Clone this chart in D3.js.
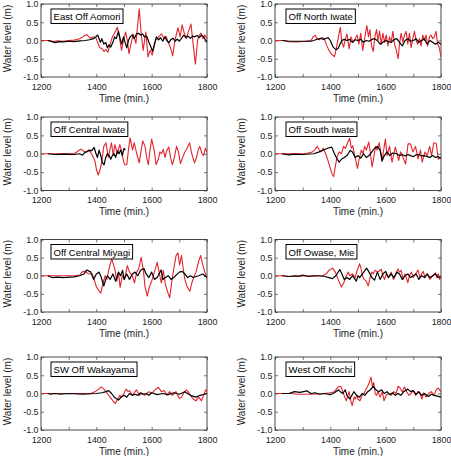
<!DOCTYPE html>
<html><head><meta charset="utf-8">
<script src="https://cdn.jsdelivr.net/npm/d3@7"></script>
<style>body{margin:0;background:#fff}svg{display:block}</style>
</head><body><svg id="c" width="451" height="456"></svg>
<script>
// ---- data (minutes, water level m) ----
const panelTitles = ["East Off Aomori","Off North Iwate","Off Central Iwate","Off South Iwate",
  "Off Central Miyagi","Off Owase, Mie","SW Off Wakayama","West Off Kochi"];
const xTicks = [1200,1400,1600,1800];
const xMinorTicks = [1200,1300,1400,1500,1600,1700,1800];
const yTicks = [-1,-0.5,0,0.5,1];

const aomoriRed = [[1200,0],[1230,0],[1245,-0.03],[1260,-0.01],[1280,-0.02],[1300,0],[1320,0.01],[1340,0.05],[1355,0.12],[1366,0.16],[1378,0.06],[1390,0.1],[1398,0.08],[1405,-0.05],[1412,-0.2],[1420,-0.22],[1428,-0.3],[1435,-0.25],[1442,-0.32],[1450,-0.1],[1458,0.1],[1466,0.2],[1476,0.36],[1483,0.1],[1491,-0.27],[1498,0],[1506,0.23],[1512,0],[1518,-0.36],[1525,-0.1],[1533,0.18],[1543,-0.08],[1555,0.87],[1562,0.2],[1569,-0.27],[1579,0.23],[1587,-0.45],[1594,-0.27],[1602,-0.4],[1614,0],[1625,0.1],[1636,0.18],[1645,0.05],[1652,0.12],[1660,-0.05],[1668,-0.2],[1676,-0.42],[1684,0],[1695,0.35],[1703,0.1],[1710,0.43],[1718,0.2],[1725,0.05],[1733,0.25],[1742,0.45],[1750,-0.1],[1758,-0.65],[1766,0],[1772,0.15],[1778,0.2],[1785,0.05],[1792,0.15],[1800,0.05]];
const aomoriBlack = [[1225,0],[1240,-0.03],[1252,-0.06],[1265,-0.03],[1280,-0.04],[1300,-0.02],[1320,-0.03],[1340,-0.01],[1360,0],[1375,0.02],[1390,0.05],[1398,0.1],[1405,0.15],[1410,0.05],[1415,-0.05],[1420,0.05],[1427,-0.1],[1434,-0.05],[1440,-0.2],[1446,-0.12],[1452,-0.18],[1460,-0.05],[1466,0.1],[1472,0.05],[1480,0.25],[1486,0.05],[1492,-0.1],[1498,0.1],[1504,-0.05],[1510,-0.2],[1516,0],[1522,0.1],[1530,0.15],[1537,0.05],[1545,0.18],[1552,0.2],[1560,0.15],[1567,0.18],[1574,0.1],[1582,0.12],[1590,-0.05],[1596,-0.15],[1603,-0.3],[1610,-0.1],[1617,0.1],[1625,0.02],[1632,0.08],[1640,-0.02],[1648,0.1],[1655,0],[1662,-0.06],[1670,0.03],[1678,0.06],[1685,-0.02],[1692,0.04],[1700,-0.02],[1708,0.06],[1716,0.15],[1724,0.08],[1732,0.12],[1740,0.06],[1748,0.12],[1756,0.1],[1764,0.14],[1772,0.08],[1780,0.15],[1788,0.1],[1794,0.02],[1800,-0.05]];

const nIwateRed = [[1200,0],[1230,0],[1250,-0.03],[1280,-0.04],[1310,-0.02],[1330,0],[1338,0.1],[1345,0.14],[1352,0.05],[1360,0.02],[1370,0.08],[1378,0.05],[1385,-0.1],[1395,-0.27],[1405,-0.38],[1415,-0.44],[1422,-0.2],[1428,0.05],[1436,0.36],[1442,-0.05],[1448,-0.18],[1455,0.05],[1460,0.18],[1468,-0.23],[1475,0.1],[1482,-0.05],[1490,0.05],[1497,0.15],[1503,-0.1],[1510,0.2],[1517,-0.27],[1524,0.05],[1532,0.41],[1538,0.1],[1543,0.3],[1549,-0.15],[1555,-0.3],[1561,0.1],[1567,0.3],[1572,0],[1578,0.25],[1584,-0.1],[1590,0.2],[1596,-0.05],[1602,0.15],[1608,-0.15],[1614,0.1],[1620,-0.05],[1626,0.25],[1632,-0.1],[1638,-0.25],[1645,-0.5],[1650,-0.1],[1656,0.2],[1662,-0.05],[1668,0.15],[1674,0.25],[1680,-0.1],[1686,0.2],[1692,-0.2],[1698,0.05],[1704,0.25],[1710,0],[1716,-0.1],[1722,0.05],[1728,-0.15],[1734,0.15],[1740,0],[1746,0.15],[1752,-0.15],[1758,0.1],[1764,0.15],[1770,0.05],[1776,0.1],[1782,0.25],[1788,-0.1],[1794,-0.2],[1800,-0.45]];
const nIwateBlack = [[1225,0],[1250,-0.02],[1290,-0.02],[1330,-0.02],[1340,0],[1355,0.04],[1365,0.06],[1375,0.03],[1385,0.06],[1392,0.08],[1400,0],[1410,-0.18],[1420,-0.25],[1428,-0.22],[1435,-0.1],[1442,0],[1450,0.03],[1460,0],[1470,0.03],[1480,-0.05],[1490,0.02],[1500,0],[1510,0.03],[1520,-0.05],[1530,0],[1540,-0.02],[1550,0.03],[1560,0.05],[1570,0],[1580,-0.1],[1590,-0.05],[1600,0],[1610,-0.03],[1620,-0.05],[1630,0.02],[1640,0.05],[1650,-0.05],[1660,-0.15],[1670,0],[1680,0.05],[1690,-0.02],[1700,0],[1710,0.05],[1720,-0.05],[1730,0],[1740,0.05],[1750,-0.1],[1760,0],[1770,-0.05],[1780,-0.1],[1790,-0.05],[1800,-0.1]];

const cIwateRed = [[1200,0],[1320,0],[1328,0.04],[1338,0.1],[1346,0.12],[1356,0.06],[1366,0.05],[1375,0.08],[1383,0],[1395,-0.2],[1401,-0.45],[1407,-0.58],[1413,-0.45],[1419,-0.25],[1427,0.2],[1435,0.3],[1443,-0.1],[1449,0.1],[1455,0.3],[1461,-0.05],[1467,0.25],[1476,0],[1485,0.25],[1492,0.05],[1498,-0.2],[1503,-0.3],[1510,-0.3],[1516,0.1],[1522,0.43],[1531,0.1],[1537,0.3],[1546,0],[1555,-0.25],[1562,0.1],[1568,0.35],[1576,0.2],[1582,-0.1],[1588,-0.3],[1594,0.1],[1600,0.4],[1609,0.1],[1616,-0.3],[1624,-0.15],[1630,0.05],[1636,0],[1642,0.12],[1648,-0.1],[1655,0.1],[1662,0.18],[1668,-0.1],[1675,-0.3],[1682,-0.1],[1690,0.2],[1697,0.05],[1704,-0.27],[1712,-0.1],[1720,0.05],[1728,0.15],[1737,0.3],[1745,0],[1755,-0.25],[1762,-0.1],[1768,0.1],[1774,0.2],[1782,0],[1788,-0.05],[1794,0.15],[1800,0.05]];
const cIwateBlack = [[1225,0],[1250,-0.02],[1280,-0.01],[1320,-0.02],[1340,0],[1350,-0.04],[1358,0.03],[1366,0.06],[1374,0.1],[1382,0.08],[1392,0.17],[1398,0.02],[1404,-0.1],[1410,0.1],[1416,-0.05],[1422,-0.25],[1428,-0.3],[1434,-0.1],[1440,0],[1446,-0.05],[1452,-0.15],[1458,-0.05],[1464,0],[1470,-0.1],[1476,0.08],[1482,0],[1488,0.1],[1494,-0.05],[1500,0.15],[1505,0.1]];

const sIwateRed = [[1200,0],[1310,0],[1320,0.02],[1335,0.05],[1345,0.12],[1353,0.2],[1360,0.1],[1366,0.05],[1374,0.15],[1382,0.02],[1390,-0.15],[1398,-0.35],[1406,-0.55],[1412,-0.62],[1418,-0.35],[1424,-0.1],[1432,0.05],[1440,0],[1448,0.2],[1455,0.15],[1462,0.3],[1470,0.42],[1476,0.15],[1481,0.22],[1488,-0.05],[1494,-0.25],[1498,-0.4],[1504,-0.15],[1512,0.1],[1518,0],[1524,0.2],[1530,0.1],[1539,0.32],[1545,0],[1551,-0.36],[1557,-0.1],[1563,0.2],[1569,0.1],[1577,0.3],[1587,-0.18],[1599,0.4],[1605,-0.05],[1614,0.2],[1623,-0.23],[1635,0.18],[1647,-0.18],[1654,0.05],[1660,-0.05],[1672,-0.28],[1681,0.27],[1690,0.27],[1698,0.05],[1708,0.2],[1717,-0.14],[1726,0.1],[1732,-0.23],[1742,0.05],[1750,-0.05],[1759,0.2],[1766,-0.05],[1774,0.3],[1783,0.28],[1790,-0.15],[1800,-0.1]];
const sIwateBlack = [[1225,0],[1250,-0.03],[1270,-0.01],[1300,-0.02],[1340,0],[1360,0.05],[1375,0.1],[1390,0.15],[1405,0.18],[1415,0],[1425,-0.15],[1432,-0.23],[1440,-0.15],[1450,-0.1],[1460,-0.05],[1466,0.02],[1472,0.09],[1480,0.05],[1490,-0.1],[1500,-0.05],[1510,-0.12],[1520,0],[1530,-0.1],[1540,-0.05],[1550,0.05],[1560,0.15],[1570,0.2],[1580,0.1],[1587,-0.2],[1595,-0.05],[1605,0.05],[1615,-0.05],[1625,0.02],[1640,0],[1650,-0.05],[1660,-0.02],[1670,-0.06],[1680,-0.02],[1690,-0.05],[1700,-0.08],[1710,-0.03],[1720,-0.02],[1730,-0.06],[1740,-0.05],[1750,-0.08],[1760,-0.1],[1770,-0.05],[1780,-0.1],[1790,-0.08],[1800,-0.12]];

const cMiyagiRed = [[1200,0],[1320,0],[1340,0.02],[1348,0.1],[1358,0.13],[1368,0.07],[1376,0.05],[1385,0.05],[1392,-0.1],[1400,-0.3],[1408,-0.4],[1416,-0.48],[1424,-0.2],[1432,0],[1438,-0.1],[1446,0.2],[1456,0.47],[1462,0.3],[1468,0.15],[1474,-0.15],[1480,0.1],[1486,-0.32],[1494,0],[1502,-0.1],[1512,0.28],[1520,0.1],[1530,0],[1538,-0.2],[1546,0.1],[1553,0.2],[1562,0.51],[1570,0.15],[1576,-0.3],[1584,-0.56],[1592,-0.3],[1600,-0.15],[1610,0.1],[1620,0.37],[1628,0.05],[1635,-0.2],[1642,0.15],[1650,-0.25],[1658,-0.45],[1665,-0.61],[1672,-0.2],[1680,0.2],[1688,0.55],[1695,0.63],[1701,0.3],[1708,0.56],[1714,0.2],[1720,-0.1],[1728,-0.3],[1738,-0.43],[1745,-0.2],[1752,-0.05],[1760,0.1],[1770,0.4],[1777,0.56],[1785,0.3],[1792,0.1],[1800,-0.05]];
const cMiyagiBlack = [[1225,0],[1240,-0.05],[1260,-0.04],[1280,-0.05],[1320,-0.03],[1340,0],[1355,0.05],[1366,0.16],[1380,0.1],[1390,-0.1],[1400,0.05],[1410,0.1],[1418,-0.05],[1427,-0.28],[1434,-0.1],[1440,0],[1450,-0.1],[1460,0.05],[1470,-0.15],[1480,0.1],[1488,0],[1495,0.15],[1500,-0.1],[1510,0.05],[1520,-0.1],[1530,0.05],[1540,0.1],[1550,0],[1560,0.15],[1572,0.2],[1580,0.05],[1590,-0.05],[1600,0.1],[1610,-0.1],[1620,-0.05],[1634,0.16],[1640,-0.1],[1650,-0.05],[1660,0],[1670,-0.1],[1680,-0.05],[1690,0.03],[1700,0.1],[1710,0.12],[1720,0.05],[1730,-0.05],[1740,0],[1750,-0.05],[1760,-0.02],[1770,0],[1785,0.05],[1800,-0.05]];

const owaseRed = [[1200,0],[1230,0],[1250,-0.02],[1280,-0.02],[1300,0],[1340,-0.01],[1370,0],[1385,0.05],[1395,0.15],[1408,0.21],[1418,0.1],[1428,-0.1],[1440,-0.31],[1448,-0.2],[1458,0],[1465,0.1],[1470,0],[1480,0.05],[1490,-0.05],[1495,0.1],[1506,0.33],[1511,0.2],[1516,0],[1522,-0.1],[1530,-0.15],[1537,-0.28],[1545,0],[1550,0.1],[1555,0.05],[1562,0.15],[1572,0.1],[1584,0.18],[1590,0],[1596,-0.1],[1602,0.05],[1610,-0.05],[1620,0.1],[1628,-0.1],[1635,0],[1644,0.19],[1650,0.1],[1656,0.15],[1663,-0.1],[1670,0.05],[1680,-0.19],[1686,0],[1693,0.1],[1700,-0.05],[1708,0.05],[1717,0.16],[1724,-0.05],[1730,0.05],[1736,0.12],[1742,-0.05],[1750,0.05],[1760,-0.1],[1770,0],[1780,0.08],[1785,-0.05],[1790,0.05],[1795,-0.1],[1800,-0.05]];
const owaseBlack = [[1225,0],[1250,-0.02],[1270,0],[1290,-0.01],[1300,0.02],[1320,-0.02],[1340,0],[1360,0],[1380,-0.02],[1395,-0.05],[1408,-0.08],[1420,0],[1434,0.17],[1442,0.05],[1450,-0.1],[1460,-0.05],[1470,-0.1],[1480,0],[1494,-0.15],[1500,0],[1506,-0.05],[1516,0.05],[1531,0.21],[1540,0.1],[1550,-0.05],[1560,-0.12],[1570,0.1],[1580,-0.1],[1590,0.05],[1600,0.12],[1610,-0.05],[1620,0.05],[1630,-0.05],[1640,0.1],[1650,0.05],[1660,-0.1],[1670,0],[1680,0.05],[1690,-0.05],[1700,0],[1710,0.05],[1720,-0.1],[1730,0],[1740,-0.05],[1750,0.05],[1760,-0.05],[1770,0],[1780,0.05],[1790,-0.05],[1800,-0.02]];

const wakayamaRed = [[1200,0],[1300,0],[1380,0],[1395,0.05],[1405,0.1],[1418,0.18],[1430,0.1],[1440,0],[1450,-0.1],[1460,-0.2],[1468,-0.27],[1478,-0.15],[1485,-0.05],[1490,-0.1],[1500,0],[1507,0.12],[1515,0.05],[1520,0.08],[1530,-0.05],[1540,0.05],[1545,0.1],[1555,-0.05],[1565,0],[1575,-0.05],[1590,0.05],[1600,0],[1612,0.1],[1624,0.17],[1635,0.05],[1645,0.08],[1655,-0.05],[1665,0.05],[1675,-0.05],[1688,0.05],[1700,-0.14],[1708,-0.1],[1715,0],[1725,0.1],[1732,0.05],[1740,-0.05],[1750,-0.15],[1760,-0.2],[1770,-0.1],[1780,-0.2],[1790,0],[1795,0.1],[1800,0.05]];
const wakayamaBlack = [[1225,0],[1235,-0.02],[1250,0],[1270,-0.02],[1300,0],[1350,-0.02],[1400,0],[1420,0.02],[1435,0.05],[1445,0.08],[1455,0],[1465,-0.1],[1480,-0.18],[1490,-0.1],[1500,-0.05],[1510,-0.1],[1520,0],[1530,-0.05],[1540,-0.02],[1550,-0.05],[1560,0.02],[1570,-0.02],[1580,0],[1590,-0.05],[1600,0.02],[1620,-0.03],[1640,0],[1660,-0.03],[1680,0.02],[1700,-0.02],[1720,0.05],[1730,0],[1740,-0.05],[1760,-0.1],[1775,-0.05],[1790,-0.02],[1800,0]];

const kochiRed = [[1200,0],[1260,0],[1280,-0.02],[1330,-0.02],[1380,0],[1400,0.02],[1415,0.05],[1428,0.18],[1438,0.2],[1445,0.05],[1452,-0.1],[1458,-0.2],[1463,-0.05],[1468,0.05],[1474,-0.2],[1479,-0.33],[1486,-0.1],[1490,-0.15],[1495,-0.05],[1500,-0.15],[1507,-0.2],[1515,-0.05],[1522,0],[1528,0.1],[1535,0.2],[1541,0.3],[1547,0.45],[1552,0.2],[1557,0.3],[1562,0],[1567,-0.05],[1572,0.05],[1580,-0.1],[1588,0.05],[1594,-0.2],[1602,-0.05],[1610,0],[1620,-0.05],[1630,0.05],[1638,0],[1645,0.2],[1652,0.15],[1660,0.05],[1668,0.18],[1676,0.05],[1684,-0.05],[1692,0],[1700,0.08],[1708,-0.05],[1716,0.05],[1724,0],[1731,-0.15],[1738,0.02],[1746,-0.1],[1755,0],[1765,0.05],[1775,-0.05],[1782,0.1],[1790,0.15],[1795,0.1],[1800,0.05]];
const kochiBlack = [[1225,0],[1250,0],[1270,0.05],[1290,0.03],[1316,0.07],[1330,0],[1345,0.02],[1360,-0.02],[1380,0],[1400,-0.03],[1410,0],[1420,0.05],[1430,0.1],[1436,0.05],[1445,0],[1454,0.1],[1460,-0.05],[1470,-0.15],[1478,-0.05],[1485,0.05],[1495,-0.05],[1505,-0.1],[1515,0],[1525,-0.05],[1535,0.05],[1545,0.1],[1555,0.2],[1565,0.1],[1575,0.05],[1585,0.1],[1595,0],[1605,0.05],[1615,-0.03],[1625,0.02],[1635,-0.05],[1645,0],[1655,-0.05],[1665,0.05],[1680,0.12],[1690,0.05],[1700,0.08],[1710,-0.03],[1720,0.05],[1730,-0.05],[1740,0],[1755,-0.08],[1765,-0.02],[1775,-0.05],[1790,-0.08],[1800,-0.1]];

const redSeries = [aomoriRed,nIwateRed,cIwateRed,sIwateRed,cMiyagiRed,owaseRed,wakayamaRed,kochiRed];
const blackSeries = [aomoriBlack,nIwateBlack,cIwateBlack,sIwateBlack,cMiyagiBlack,owaseBlack,wakayamaBlack,kochiBlack];

// ---- layout ----
const colX = [[41,207],[275,441]];
const rowY = [[4,77],[117,190.5],[239.5,312],[357,430]];
const yTitleX = [7,241];
const FONT = "'Liberation Sans', Arial, Helvetica, sans-serif";
const RED = "#e2242c";

const svg = d3.select("#c");

panelTitles.forEach((title, i) => {
  const c = i % 2, r = Math.floor(i / 2);
  const [x0, x1] = colX[c], [y0, y1] = rowY[r];
  const x = d3.scaleLinear().domain([1200,1800]).range([x0, x1]);
  const y = d3.scaleLinear().domain([-1,1]).range([y1, y0]);
  const g = svg.append("g");

  const clipId = "clip" + i;
  svg.append("clipPath").attr("id", clipId).append("rect")
    .attr("x", x0).attr("y", y0).attr("width", x1 - x0).attr("height", y1 - y0);

  const styleAxis = sel => {
    sel.select(".domain").remove();
    sel.selectAll("line").attr("stroke", "#555").attr("stroke-width", 0.8);
    sel.selectAll("text").attr("font-family", FONT).attr("font-size", 8.9).attr("fill", "#222");
  };
  g.append("g").attr("transform", `translate(0,${y1})`)
    .call(d3.axisBottom(x).tickValues(xMinorTicks).tickSize(-3).tickPadding(6.2)
      .tickFormat(v => xTicks.includes(v) ? String(v) : ""))
    .call(styleAxis);
  g.append("g").attr("transform", `translate(0,${y0})`)
    .call(d3.axisTop(x).tickValues(xMinorTicks).tickSize(-3).tickFormat(""))
    .call(styleAxis);
  g.append("g").attr("transform", `translate(${x0},0)`)
    .call(d3.axisLeft(y).tickValues(yTicks).tickSize(-3).tickPadding(2.5).tickFormat(v => v.toFixed(1)))
    .call(styleAxis);
  g.append("g").attr("transform", `translate(${x1},0)`)
    .call(d3.axisRight(y).tickValues(yTicks).tickSize(-3).tickFormat(""))
    .call(styleAxis);

  g.append("rect").attr("x", x0).attr("y", y0).attr("width", x1 - x0).attr("height", y1 - y0)
    .attr("fill", "none").attr("stroke", "#333").attr("stroke-width", 0.9);

  const line = d3.line().x(d => x(d[0])).y(d => y(d[1]));
  const lg = g.append("g").attr("clip-path", `url(#${clipId})`);
  lg.append("path").datum(redSeries[i]).attr("d", line)
    .attr("fill", "none").attr("stroke", RED).attr("stroke-width", 1.1).attr("stroke-linejoin", "round");
  lg.append("path").datum(blackSeries[i]).attr("d", line)
    .attr("fill", "none").attr("stroke", "#000").attr("stroke-width", 1.2).attr("stroke-linejoin", "round");

  // label box
  const bx = x0 + (c === 0 ? 10 : 11), by = y0 + 5;
  const box = g.append("rect").attr("x", bx).attr("y", by).attr("height", 14.5)
    .attr("fill", "#fff").attr("stroke", "#000").attr("stroke-width", 1);
  const t = g.append("text").attr("x", bx + 2.5).attr("y", by + 11)
    .attr("font-family", FONT).attr("font-size", 9.6).attr("fill", "#000").text(title);
  box.attr("width", t.node().getComputedTextLength() + 5);

  g.append("text").attr("x", (x0 + x1) / 2).attr("y", y1 + 24.5)
    .attr("text-anchor", "middle").attr("font-family", FONT).attr("font-size", 10).attr("fill", "#222")
    .text("Time (min.)");
  g.append("text").attr("transform", `translate(${yTitleX[c] + 3.5},${(y0 + y1) / 2 - 2}) rotate(-90)`)
    .attr("text-anchor", "middle").attr("font-family", FONT).attr("font-size", 10).attr("fill", "#222")
    .text("Water level (m)");
});
</script>
</body></html>
